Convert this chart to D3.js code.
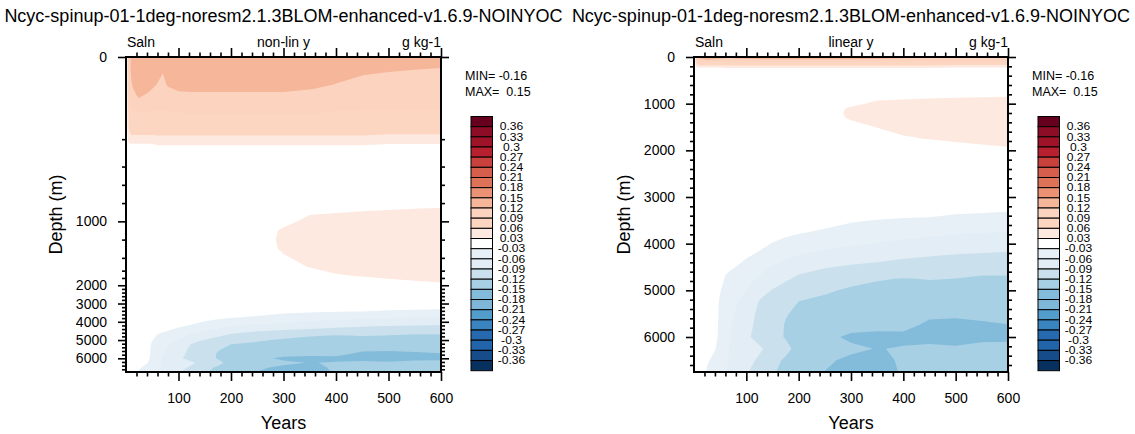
<!DOCTYPE html>
<html>

<head>
  <meta charset="utf-8">
  <title>Saln drift</title>
  <style>
    body { margin: 0; background: #fff; }
    text { font-family: "Liberation Sans", Arial, Helvetica, sans-serif; }
  </style>
</head>

<body>

  <svg id="main" width="1135" height="434"></svg>

  <script src="https://cdn.jsdelivr.net/npm/d3@7"></script>
  <script>

    const title = 'Ncyc-spinup-01-1deg-noresm2.1.3BLOM-enhanced-v1.6.9-NOINYOC'

    // model years of the grid columns
    const years = [0, 5, 10, 15, 20, 25, 30, 40, 50, 60, 70, 80, 100, 125, 150, 175, 200, 250, 300, 350, 400, 450, 500, 550, 600]

    // depths (m) of the grid rows
    const depths = [0, 10, 20, 30, 40, 50, 60, 75, 100, 150, 200, 250, 300, 500, 750, 900, 1000, 1100, 1200, 1300, 1500, 1750, 2000, 2250,
      2750, 3250, 3500, 3750, 4000, 4250, 4500, 4750, 5000, 5250, 5500, 5750, 6000, 6250, 6500, 6750]

    // model z-levels, used for the non-linear depth axis
    const levelDepths = [0, 5, 10, 15, 20, 25, 30, 40, 50, 62.5, 75, 87.5, 100, 112.5, 125, 137.5, 150, 175, 200, 225, 250, 275, 300,
      350, 400, 450, 500, 550, 600, 650, 700, 750, 800, 850, 900, 950, 1000, 1050, 1100, 1150, 1200, 1250, 1300, 1350, 1400, 1450,
      1500, 1625, 1750, 1875, 2000, 2250, 2500, 2750, 3000, 3250, 3500, 3750, 4000, 4250, 4500, 4750, 5000, 5250, 5500, 5750,
      6000, 6250, 6500, 6750]

    // salinity drift (g kg-1), one row per depth, one value per year
    const saln = [
      /*    0 */[0, .085, .13, .14, .145, .145, .145, .145, .14, .14, .135, .14, .14, .14, .14, .14, .14, .14, .14, .14, .14, .14, .14, .138, .135],
      /*   10 */[0, .085, .13, .14, .145, .145, .145, .145, .14, .14, .125, .14, .14, .14, .14, .14, .14, .14, .14, .14, .14, .13, .127, .124, .122],
      /*   20 */[0, .085, .125, .135, .14, .14, .14, .14, .135, .13, .118, .133, .135, .135, .135, .135, .135, .135, .135, .135, .13, .1201, .116, .114, .112],
      /*   30 */[0, .085, .115, .13, .135, .135, .135, .135, .13, .118, .113, .123, .13, .13, .13, .13, .13, .13, .13, .13, .119, .115, .112, .11, .108],
      /*   40 */[0, .085, .11, .122, .13, .132, .13, .13, .1198, .112, .11, .117, .123, .124, .124, .124, .124, .124, .124, .121, .113, .11, .108, .106, .105],
      /*   50 */[0, .08, .105, .112, .124, .128, .126, .1198, .113, .11, .108, .112, .117, .118, .118, .118, .118, .118, .118, .114, .108, .106, .104, .103, .102],
      /*   60 */[0, .08, .1, .108, .116, .122, .118, .113, .11, .108, .106, .108, .112, .113, .113, .113, .113, .113, .113, .11, .105, .104, .102, .101, .1],
      /*   75 */[0, .075, .097, .1, .105, .11, .107, .104, .102, .1, .1, .1, .103, .104, .104, .104, .104, .104, .104, .102, .1, .098, .098, .098, .098],
      /*  100 */[0, .07, .088, .089, .089, .089, .089, .089, .089, .089, .089, .089, .089, .092, .092, .092, .092, .092, .092, .092, .089, .089, .089, .089, .089],
      /*  150 */[0, .058, .075, .075, .075, .075, .075, .075, .075, .075, .075, .075, .075, .075, .075, .075, .075, .075, .075, .075, .075, .075, .072, .072, .072],
      /*  200 */[0, .04, .048, .048, .048, .048, .048, .048, .048, .05, .05, .05, .05, .05, .05, .05, .05, .05, .05, .05, .05, .05, .046, .046, .046],
      /*  250 */[0, .015, .012, .012, .012, .012, .012, .012, .012, .02, .02, .02, .02, .02, .02, .02, .02, .02, .02, .02, .02, .02, .016, .016, .016],
      /*  300 */[0, .005, .005, .005, .005, .005, .005, .005, .005, .005, .005, .005, .005, .005, .005, .005, .005, .005, .005, .005, .005, .005, .005, .005, .005],
      /*  500 */[0, 0, 0, 0, 0, 0, 0, 0, 0, 0, 0, 0, 0, 0, 0, 0, 0, 0, 0, .002, .003, .004, .005, .005, .006],
      /*  750 */[0, 0, 0, 0, 0, 0, 0, 0, 0, 0, 0, 0, 0, 0, 0, 0, 0, .005, .005, .01, .015, .018, .02, .021, .022],
      /*  900 */[0, 0, 0, 0, 0, 0, 0, 0, 0, 0, 0, 0, 0, 0, 0, 0, 0, .01, .012, .027, .029, .031, .032, .033, .034],
      /* 1000 */[0, 0, 0, 0, 0, 0, 0, 0, 0, 0, 0, 0, 0, 0, 0, 0, 0, .013, .022, .037, .04, .042, .043, .044, .045],
      /* 1100 */[0, 0, 0, 0, 0, 0, 0, 0, 0, 0, 0, 0, 0, 0, 0, 0, 0, .015, .034, .04, .043, .045, .046, .047, .048],
      /* 1200 */[0, 0, 0, 0, 0, 0, 0, 0, 0, 0, 0, 0, 0, 0, 0, 0, 0, .016, .036, .04, .044, .046, .047, .048, .049],
      /* 1300 */[0, 0, 0, 0, 0, 0, 0, 0, 0, 0, 0, 0, 0, 0, 0, 0, 0, .015, .034, .038, .043, .046, .047, .048, .049],
      /* 1500 */[0, 0, 0, 0, 0, 0, 0, 0, 0, 0, 0, 0, 0, 0, 0, 0, 0, .01, .02, .031, .038, .042, .044, .046, .047],
      /* 1750 */[0, 0, 0, 0, 0, 0, 0, 0, 0, 0, 0, 0, 0, 0, 0, 0, 0, .005, .01, .016, .027, .031, .036, .038, .039],
      /* 2000 */[0, 0, 0, 0, 0, 0, 0, 0, 0, 0, 0, 0, 0, 0, 0, 0, 0, 0, .003, .006, .01, .012, .015, .022, .026],
      /* 2250 */[0, 0, 0, 0, 0, 0, 0, 0, 0, 0, 0, 0, 0, 0, -.002, -.003, -.003, -.004, 0, 0, .002, .003, .004, .005, .006],
      /* 2750 */[0, 0, 0, 0, 0, 0, 0, 0, 0, 0, 0, 0, 0, 0, -.005, -.007, -.008, -.01, -.012, -.013, -.014, -.015, -.016, -.017, -.018],
      /* 3250 */[0, 0, 0, 0, 0, 0, 0, 0, 0, 0, 0, 0, 0, -.01, -.012, -.014, -.016, -.018, -.02, -.022, -.022, -.023, -.0255, -.026, -.0275],
      /* 3500 */[0, 0, 0, 0, 0, 0, 0, 0, 0, 0, 0, 0, -.01, -.013, -.016, -.019, -.022, -.022, -.028, -.0305, -.032, -.0325, -.035, -.037, -.037],
      /* 3750 */[0, 0, 0, 0, 0, 0, 0, 0, 0, 0, 0, -.01, -.014, -.018, -.02, -.025, -.028, -.033, -.038, -.042, -.046, -.05, -.055, -.058, -.0601],
      /* 4000 */[0, 0, 0, 0, 0, 0, 0, 0, 0, -.01, -.013, -.015, -.02, -.024, -.031, -.036, -.04, -.048, -.055, -.062, -.068, -.075, -.08, -.082, -.083],
      /* 4250 */[0, 0, 0, 0, 0, 0, 0, 0, -.01, -.014, -.018, -.02, -.027, -.034, -.045, -.052, -.0605, -.07, -.082, -.084, -.087, -.089, -.091, -.092, -.093],
      /* 4500 */[0, 0, 0, 0, 0, 0, 0, 0, -.012, -.02, -.027, -.0302, -.038, -.048, -.062, -.072, -.083, -.089, -.092, -.094, -.097, -.099, -.112, -.113, -.113],
      /* 4750 */[0, 0, 0, 0, 0, 0, 0, -.01, -.015, -.034, -.038, -.042, -.05, -.065, -.08, -.087, -.094, -.099, -.113, -.118, -.121, -.119, -.1202, -.1225, -.1225],
      /* 5000 */[0, 0, 0, 0, 0, 0, 0, -.012, -.028, -.042, -.047, -.052, -.0605, -.082, -.091, -.098, -.112, -.117, -.123, -.127, -.13, -.128, -.13, -.132, -.132],
      /* 5250 */[0, 0, 0, 0, 0, 0, 0, -.013, -.036, -.046, -.052, -.058, -.068, -.092, -.1, -.108, -.1205, -.125, -.128, -.13, -.134, -.138, -.14, -.138, -.136],
      /* 5500 */[0, 0, 0, 0, 0, 0, 0, -.014, -.038, -.048, -.055, -.062, -.076, -.097, -.105, -.118, -.126, -.128, -.132, -.134, -.138, -.145, -.146, -.143, -.14],
      /* 5750 */[0, 0, 0, 0, 0, 0, -.012, -.015, -.04, -.05, -.058, -.066, -.08, -.099, -.107, -.122, -.13, -.13, -.14, -.142, -.143, -.155, -.156, -.154, -.151],
      /* 6000 */[0, 0, 0, 0, 0, -.012, -.015, -.02, -.04, -.052, -.0605, -.068, -.085, -.1, -.11, -.122, -.132, -.143, -.155, -.158, -.156, -.156, -.156, -.155, -.154],
      /* 6250 */[0, 0, 0, 0, -.01, -.018, -.02, -.028, -.042, -.054, -.062, -.07, -.078, -.086, -.1, -.112, -.13, -.135, -.145, -.151, -.148, -.146, -.148, -.144, -.144],
      /* 6500 */[0, 0, 0, 0, -.015, -.025, -.0302, -.04, -.045, -.056, -.064, -.072, -.082, -.094, -.112, -.124, -.135, -.146, -.155, -.156, -.147, -.142, -.143, -.14, -.14],
      /* 6750 */[0, 0, -.005, -.01, -.02, -.035, -.04, -.045, -.048, -.058, -.066, -.074, -.088, -.1, -.116, -.13, -.138, -.1505, -.158, -.158, -.148, -.142, -.142, -.14, -.14]
    ]

    // contour levels and the fill colour of each band, lowest band first
    const levels = [-0.36, -0.33, -0.3, -0.27, -0.24, -0.21, -0.18, -0.15, -0.12, -0.09, -0.06, -0.03,
      0.03, 0.06, 0.09, 0.12, 0.15, 0.18, 0.21, 0.24, 0.27, 0.3, 0.33, 0.36]
    const colors = ['#08305f', '#174c8b', '#2164a9', '#2669ae', '#3a85bf', '#529dcb', '#7fb7d8', '#83bbda',
      '#a8d0e4', '#cae1ed', '#e2edf5', '#e6f0f6', '#ffffff', '#fde9df', '#fcd6c1', '#fcd3be', '#f5b69a',
      '#ec9274', '#de735a', '#d55e4c', '#c8413d', '#b6202f', '#9f1328', '#8c0d25', '#67001f']

    const xTicks = [100, 200, 300, 400, 500, 600]
    const yTicks = [0, 1000, 2000, 3000, 4000, 5000, 6000]
    const minText = 'MIN= -0.16'
    const maxText = 'MAX=  0.15'

    const svg = d3.select('#main')
    const margin = { top: 57, bottom: 372 }
    const panels = [
      { id: 'p0', left: 126, right: 441, sub: 'non-lin y', yType: 'index' },
      { id: 'p1', left: 694, right: 1008, sub: 'linear y', yType: 'linear' }
    ]

    const contours = d3.contours()
      .size([years.length, depths.length])
      .thresholds(levels)(saln.flat())

    // contour grid coordinates -> data values (grid value i sits at i + 0.5)
    const colYear = d3.scaleLinear().domain(years.map((d, i) => i + 0.5)).range(years).clamp(true)
    const rowDepth = d3.scaleLinear().domain(depths.map((d, i) => i + 0.5)).range(depths).clamp(true)

    const xMinor = d3.range(20, 601, 20).filter(d => d % 100 !== 0)
    const yMinor = d3.range(200, 6750, 200).filter(d => d % 1000 !== 0)

    panels.forEach(p => drawPanel(p))

    function drawPanel(p) {
      const top = margin.top, bottom = margin.bottom
      const x = d3.scaleLinear().domain([0, 600]).range([p.left, p.right])
      const y = p.yType === 'index'
        ? d3.scaleLinear().domain(levelDepths)
          .range(levelDepths.map((d, i) => top + i * (bottom - top) / (levelDepths.length - 1)))
        : d3.scaleLinear().domain([0, 6750]).range([top, bottom])

      const proj = d3.geoTransform({
        point: function (cx, cy) { this.stream.point(x(colYear(cx)), y(rowDepth(cy))) }
      })
      const path = d3.geoPath(proj)

      svg.append('clipPath').attr('id', 'clip-' + p.id)
        .append('rect')
        .attr('x', p.left).attr('y', top)
        .attr('width', p.right - p.left).attr('height', bottom - top)

      const g = svg.append('g')

      g.append('g')
        .attr('clip-path', `url(#clip-${p.id})`)
        .selectAll('path')
        .data(contours)
        .join('path')
        .attr('d', path)
        .attr('fill', d => colors[levels.indexOf(d.value) + 1])

      // axes: major and minor ticks, outward on every side
      const axes = [
        [d3.axisBottom(x).tickValues(xTicks).tickSize(9).tickPadding(12).tickFormat(d3.format('d')), `translate(0,${bottom})`],
        [d3.axisBottom(x).tickValues(xMinor).tickSize(4.5).tickFormat(''), `translate(0,${bottom})`],
        [d3.axisTop(x).tickValues(xTicks).tickSize(9).tickFormat(''), `translate(0,${top})`],
        [d3.axisTop(x).tickValues(xMinor).tickSize(4.5).tickFormat(''), `translate(0,${top})`],
        [d3.axisLeft(y).tickValues(yTicks).tickSize(8).tickPadding(11).tickFormat(d3.format('d')), `translate(${p.left},0)`],
        [d3.axisLeft(y).tickValues(yMinor).tickSize(4).tickFormat(''), `translate(${p.left},0)`],
        [d3.axisRight(y).tickValues(yTicks).tickSize(8).tickFormat(''), `translate(${p.right},0)`],
        [d3.axisRight(y).tickValues(yMinor).tickSize(4).tickFormat(''), `translate(${p.right},0)`]
      ]
      axes.forEach(([axis, tr]) => {
        const a = g.append('g').attr('transform', tr).call(axis)
        a.select('.domain').remove()
        a.selectAll('.tick line').attr('stroke', '#000').attr('stroke-width', 1.6)
        a.selectAll('.tick text')
          .attr('font-family', '"Liberation Sans", Arial, sans-serif')
          .attr('font-size', '14px')
          .attr('fill', '#000')
      })

      g.append('rect')
        .attr('x', p.left).attr('y', top)
        .attr('width', p.right - p.left).attr('height', bottom - top)
        .attr('fill', 'none').attr('stroke', '#000').attr('stroke-width', 2)

      const cx = (p.left + p.right) / 2
      g.append('text').text(title)
        .attr('x', cx).attr('y', 21.5)
        .attr('text-anchor', 'middle').attr('font-size', '18px')
      g.append('text').text('Saln')
        .attr('x', p.left + 1).attr('y', 47).attr('font-size', '14px')
      g.append('text').text(p.sub)
        .attr('x', cx).attr('y', 47).attr('text-anchor', 'middle').attr('font-size', '14px')
      g.append('text').text('g kg-1')
        .attr('x', p.right).attr('y', 47).attr('text-anchor', 'end').attr('font-size', '14px')
      g.append('text').text('Years')
        .attr('x', cx).attr('y', 428.5).attr('text-anchor', 'middle').attr('font-size', '18px')
      g.append('text').text('Depth (m)')
        .attr('transform', `translate(${p.left - 64},${(top + bottom) / 2}) rotate(-90)`)
        .attr('text-anchor', 'middle').attr('font-size', '18px')

      g.append('text').text(minText)
        .attr('x', p.right + 24).attr('y', 80).attr('font-size', '12.5px').style('white-space', 'pre')
      g.append('text').text(maxText)
        .attr('x', p.right + 24).attr('y', 96).attr('font-size', '12.5px').style('white-space', 'pre')

      drawColorbar(g, p.right + 30)
    }

    function drawColorbar(g, x0) {
      const w = 21.5
      const n = colors.length
      const yBar = d3.scaleLinear().domain([0, n]).range([116.5, 370.7])
      const boxes = colors.slice().reverse()

      g.append('g').selectAll('rect')
        .data(boxes)
        .join('rect')
        .attr('x', x0)
        .attr('y', (d, i) => yBar(i))
        .attr('width', w)
        .attr('height', yBar(1) - yBar(0))
        .attr('fill', d => d)
        .attr('stroke', '#000')
        .attr('stroke-width', 1)

      // labels are squeezed vertically, as in NCL label bars
      const labels = levels.slice().reverse()
      g.append('g').selectAll('text')
        .data(labels)
        .join('text')
        .text(d => String(+d.toFixed(2)))
        .attr('transform', (d, i) => `translate(${x0 + w + 19},${yBar(i + 1)}) scale(1.15,1)`)
        .attr('dy', '0.36em')
        .attr('text-anchor', 'middle')
        .attr('font-size', '10.5px')
    }

  </script>
</body>

</html>
